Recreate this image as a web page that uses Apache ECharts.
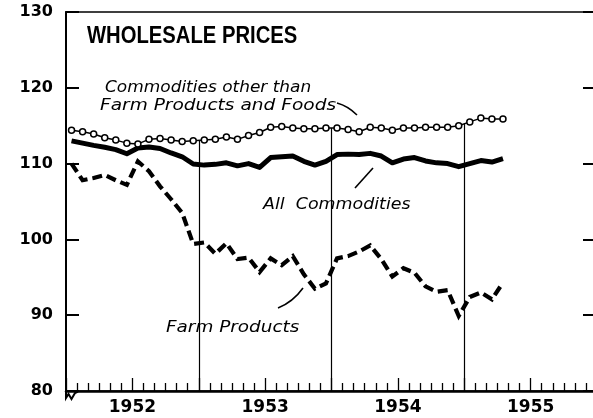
<!DOCTYPE html>
<html>
<head>
<meta charset="utf-8">
<script src="https://cdn.jsdelivr.net/npm/echarts@6/dist/echarts.min.js"></script>
<style>
html,body{margin:0;padding:0;background:#fff;}
#chart{width:593px;height:418px;}
</style>
</head>
<body>
<div id="chart"></div>
<script>
// Monthly index values, Jan 1952 .. Apr 1955 (1947-49 = 100)
const yearLabels = ['1952', '1953', '1954', '1955'];
const yTicks = [80, 90, 100, 110, 120, 130];

const commodities = [
  114.4, 114.2, 113.9, 113.4, 113.1, 112.7, 112.6, 113.2, 113.3, 113.1, 112.9, 113.0,
  113.1, 113.2, 113.5, 113.2, 113.7, 114.1, 114.8, 114.9, 114.7, 114.6, 114.6, 114.7,
  114.7, 114.5, 114.2, 114.8, 114.7, 114.4, 114.7, 114.7, 114.8, 114.8, 114.8, 115.0,
  115.5, 116.0, 115.9, 115.9
];
const allCommodities = [
  113.0, 112.7, 112.4, 112.15, 111.85, 111.3, 112.06, 112.2, 112.0, 111.4, 110.9, 109.95,
  109.8, 109.9, 110.1, 109.7, 110.0, 109.5, 110.8, 110.9, 111.0, 110.3, 109.8, 110.3,
  111.2, 111.25, 111.2, 111.35, 111.0, 110.1, 110.6, 110.8, 110.35, 110.1, 110.0, 109.6,
  110.0, 110.4, 110.2, 110.65
];
const farmProducts = [
  110.0, 107.8, 108.1, 108.5, 107.8, 107.2, 110.3, 109.0, 107.0, 105.3, 103.5, 99.4,
  99.6, 98.1, 99.5, 97.4, 97.6, 95.7, 97.5, 96.6, 97.8, 95.4, 93.5, 94.2,
  97.5, 97.8, 98.4, 99.2, 97.4, 95.1, 96.2, 95.6, 93.8, 93.1, 93.3, 89.9,
  92.4, 93.0, 92.1, 94.3
];
const yearBoundaries = [12, 24, 36];

const toPoints = arr => arr.map((v, i) => [i + 0.5, v]);

const dividerData = yearBoundaries.map(b => {
  const top = (commodities[b - 1] + commodities[b]) / 2;
  return [{ coord: [b, yTicks[0]] }, { coord: [b, top] }];
});

const chart = echarts.init(document.getElementById('chart'), null, { renderer: 'canvas' });
const numFont = 'DejaVu Sans';
const annFont = 'italic 16px "DejaVu Sans"';

chart.setOption({
  animation: false,
  backgroundColor: '#fff',
  grid: {
    left: 66, right: -4, top: 12, bottom: 27,
    outerBoundsMode: 'none', containLabel: false,
    show: true, borderColor: '#000', borderWidth: 1.5, backgroundColor: 'transparent'
  },
  xAxis: {
    type: 'value', min: 0, max: 48, interval: 6,
    axisLine: { show: true, onZero: false, lineStyle: { color: '#000', width: 2.5 } },
    axisTick: { show: true, inside: true, length: 13, lineStyle: { color: '#000', width: 1.3 } },
    minorTick: { show: true, splitNumber: 6, length: 8, lineStyle: { color: '#000', width: 1.3 } },
    splitLine: { show: false },
    axisLabel: {
      show: true, margin: 8, color: '#000', fontSize: 17, fontWeight: 'bold', fontFamily: numFont,
      formatter: v => (v % 12 === 6 ? yearLabels[(v - 6) / 12] : '')
    }
  },
  yAxis: [
    {
      type: 'value', min: yTicks[0], max: yTicks[yTicks.length - 1], interval: 10,
      axisLine: { show: true, lineStyle: { color: '#000', width: 2 } },
      axisTick: { show: true, inside: true, length: 13, lineStyle: { color: '#000', width: 2 } },
      splitLine: { show: false },
      axisLabel: { margin: 13, color: '#000', fontSize: 16, fontWeight: 'bold', fontFamily: numFont }
    },
    {
      type: 'value', position: 'right', min: yTicks[0], max: yTicks[yTicks.length - 1], interval: 10,
      axisLine: { show: true, lineStyle: { color: '#000', width: 2 } },
      axisTick: { show: true, inside: true, length: 14, lineStyle: { color: '#000', width: 2 } },
      splitLine: { show: false },
      axisLabel: { show: false }
    }
  ],
  series: [
    {
      name: 'Farm Products', type: 'line', data: toPoints(farmProducts),
      showSymbol: false, symbol: 'none', z: 3,
      lineStyle: { color: '#000', width: 4.2, type: [10, 5], cap: 'butt', join: 'miter' }
    },
    {
      name: 'All Commodities', type: 'line', data: toPoints(allCommodities),
      showSymbol: false, symbol: 'none', z: 4,
      lineStyle: { color: '#000', width: 5, join: 'round' }
    },
    {
      name: 'Commodities other than Farm Products and Foods', type: 'line', data: toPoints(commodities),
      symbol: 'circle', symbolSize: 6, showSymbol: true, z: 5,
      lineStyle: { color: '#000', width: 1.5 },
      itemStyle: { color: '#fff', borderColor: '#000', borderWidth: 1.5 },
      markLine: {
        silent: true, symbol: ['none', 'none'], label: { show: false },
        lineStyle: { color: '#000', width: 1.2, type: 'solid' },
        emphasis: { disabled: true },
        data: dividerData
      }
    }
  ],
  graphic: [
    { type: 'text', x: 87, y: 37, scaleX: 0.88,
      style: { text: 'WHOLESALE PRICES', font: 'bold 23px "Liberation Sans"', fill: '#000', textVerticalAlign: 'middle' } },
    { type: 'text', x: 105, y: 88, scaleX: 1.06,
      style: { text: 'Commodities other than', font: annFont, fill: '#000', textVerticalAlign: 'middle' } },
    { type: 'text', x: 100, y: 106, scaleX: 1.16,
      style: { text: 'Farm Products and Foods', font: annFont, fill: '#000', textVerticalAlign: 'middle' } },
    { type: 'text', x: 263, y: 205, scaleX: 1.09,
      style: { text: 'All  Commodities', font: annFont, fill: '#000', textVerticalAlign: 'middle' } },
    { type: 'text', x: 166, y: 328, scaleX: 1.15,
      style: { text: 'Farm Products', font: annFont, fill: '#000', textVerticalAlign: 'middle' } },
    { type: 'bezierCurve', shape: { x1: 337, y1: 103, cpx1: 348, cpy1: 106, x2: 357, y2: 115 },
      style: { stroke: '#000', lineWidth: 1.6, fill: null } },
    { type: 'line', shape: { x1: 355, y1: 188, x2: 373, y2: 168 },
      style: { stroke: '#000', lineWidth: 1.6 } },
    { type: 'bezierCurve', shape: { x1: 278, y1: 308, cpx1: 293, cpy1: 302, x2: 303, y2: 288 },
      style: { stroke: '#000', lineWidth: 1.6, fill: null } },
    { type: 'polyline', shape: { points: [[66, 391], [66, 398], [68.5, 394], [71.5, 399], [75, 393], [78, 391.5]] },
      style: { stroke: '#000', lineWidth: 2, fill: null } }
  ]
});
</script>
</body>
</html>
